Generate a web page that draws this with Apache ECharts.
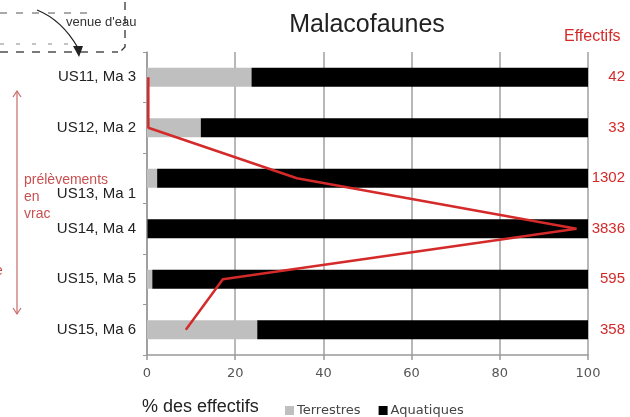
<!DOCTYPE html>
<html>
<head>
<meta charset="utf-8">
<script src="https://cdn.jsdelivr.net/npm/echarts@6/dist/echarts.min.js"></script>
<style>html,body{margin:0;padding:0;background:#fff;}#c{width:630px;height:417px;}</style>
</head>
<body>
<div id="c"></div>
<script>
var categories = ['US11, Ma 3', 'US12, Ma 2', 'US13, Ma 1', 'US14, Ma 4', 'US15, Ma 5', 'US15, Ma 6'];
var terrestres = [23.7, 12.2, 2.3, 0.1, 1.2, 25];
var aquatiques = [76.3, 87.8, 97.7, 99.9, 98.8, 75];
var effectifs = ['42', '33', '1302', '3836', '595', '358'];
var effectifsLine = [0.3, 0.3, 34, 97.4, 17.2, 8.8];
var xTicks = [0, 20, 40, 60, 80, 100];

var chart = echarts.init(document.getElementById('c'));
var red = '#d42a2a';
var option = {
  animation: false,
  backgroundColor: '#fff',
  title: {
    text: 'Malacofaunes', left: 362, top: 8, textAlign: 'center',
    textStyle: {fontFamily: 'Liberation Sans', fontSize: 25, fontWeight: 'normal', color: '#222'}
  },
  legend: {
    data: ['Terrestres', 'Aquatiques'], left: 280, top: 399,
    itemWidth: 9, itemHeight: 9, itemGap: 18, icon: 'rect',
    textStyle: {fontFamily: 'DejaVu Sans', fontSize: 13, color: '#444', padding: [0,0,0,-2]}
  },
  grid: {left: 147, right: 42, top: 52, bottom: 62, containLabel: false},
  xAxis: {
    type: 'value', min: 0, max: 100, interval: 20,
    axisLine: {show: true, lineStyle: {color: '#999', width: 1.5}},
    axisTick: {show: true, length: 5, lineStyle: {color: '#999', width: 1.5}},
    splitLine: {show: true, lineStyle: {color: '#a0a0a0', width: 1.5}},
    axisLabel: {
      margin: 12, fontFamily: 'DejaVu Sans', fontSize: 13, color: '#555',
      formatter: function (v) { return xTicks.indexOf(v) >= 0 ? String(v) : ''; }
    }
  },
  yAxis: [{
    type: 'category', data: categories, inverse: true,
    axisLine: {show: true, lineStyle: {color: '#999', width: 1.5}},
    axisTick: {show: true, length: 4, lineStyle: {color: '#999'}},
    axisLabel: {
      margin: 11, fontFamily: 'Liberation Sans', fontSize: 15, color: '#222',
      formatter: function (v, i) { return i === 2 ? '{d|' + v + '}' : v; },
      rich: {d: {fontFamily: 'Liberation Sans', fontSize: 15, color: '#222', padding: [32, 0, 0, 0]}}
    }
  }, {
    type: 'category', data: effectifs, inverse: true, position: 'right',
    axisLine: {show: false}, axisTick: {show: false},
    axisLabel: {margin: 37, align: 'right', fontFamily: 'Liberation Sans', fontSize: 15, color: red}
  }],
  series: [{
    name: 'Terrestres', type: 'bar', stack: 'a', data: terrestres, barWidth: 19,
    itemStyle: {color: '#bfbfbf'}
  }, {
    name: 'Aquatiques', type: 'bar', stack: 'a', data: aquatiques, barWidth: 19,
    itemStyle: {color: '#000'}
  }, {
    name: 'Effectifs', type: 'line', z: 5,
    data: effectifsLine.map(function (v, i) { return [v, categories[i]]; }),
    showSymbol: false, symbol: 'none',
    lineStyle: {color: red, width: 2.5}
  }],
  graphic: [
    {type: 'text', left: 142, top: 398, style: {text: '% des effectifs', font: '18px "Liberation Sans"', fill: '#222'}},
    {type: 'text', left: 564, top: 29, style: {text: 'Effectifs', font: '16px "Liberation Sans"', fill: red}},
    {type: 'text', left: 24, top: 172, style: {text: 'prélèvements\nen\nvrac', font: '14px "Liberation Sans"', fill: '#c85050', lineHeight: 17}},
    {type: 'text', left: -5, top: 264, style: {text: 'e', font: '14px "Liberation Sans"', fill: '#c85050'}},
    {type: 'line', shape: {x1: 17, y1: 91, x2: 17, y2: 314}, style: {stroke: '#c86a6a', lineWidth: 1.2}},
    {type: 'polyline', shape: {points: [[13, 97], [17, 91], [21, 97]]}, style: {stroke: '#c86a6a', lineWidth: 1.2, fill: null}},
    {type: 'polyline', shape: {points: [[13, 308], [17, 314], [21, 308]]}, style: {stroke: '#c86a6a', lineWidth: 1.2, fill: null}},
    {type: 'text', left: 66, top: 16, style: {text: "venue d'eau", font: '13px "Liberation Sans"', fill: '#333'}},
    {type: 'line', shape: {x1: 0, y1: 13, x2: 95, y2: 13}, style: {stroke: '#555', lineWidth: 1, lineDash: [7, 9]}},
    {type: 'line', shape: {x1: 0, y1: 44, x2: 75, y2: 44}, style: {stroke: '#888', lineWidth: 1, lineDash: [4, 12]}},
    {type: 'line', shape: {x1: 0, y1: 52, x2: 118, y2: 52}, style: {stroke: '#333', lineWidth: 1.3, lineDash: [8, 8]}},
    {type: 'polyline', shape: {points: [[125, 2], [125, 47], [120, 52]]}, style: {stroke: '#333', lineWidth: 1.3, lineDash: [8, 6], fill: null}},
    {type: 'bezierCurve', shape: {x1: 37, y1: 10, cpx1: 62, cpy1: 20, x2: 78, y2: 48}, style: {stroke: '#222', lineWidth: 1.3, fill: null}},
    {type: 'polygon', shape: {points: [[73, 46], [83, 46], [79, 57]]}, style: {fill: '#222'}}
  ]
};
chart.setOption(option);
</script>
</body>
</html>
